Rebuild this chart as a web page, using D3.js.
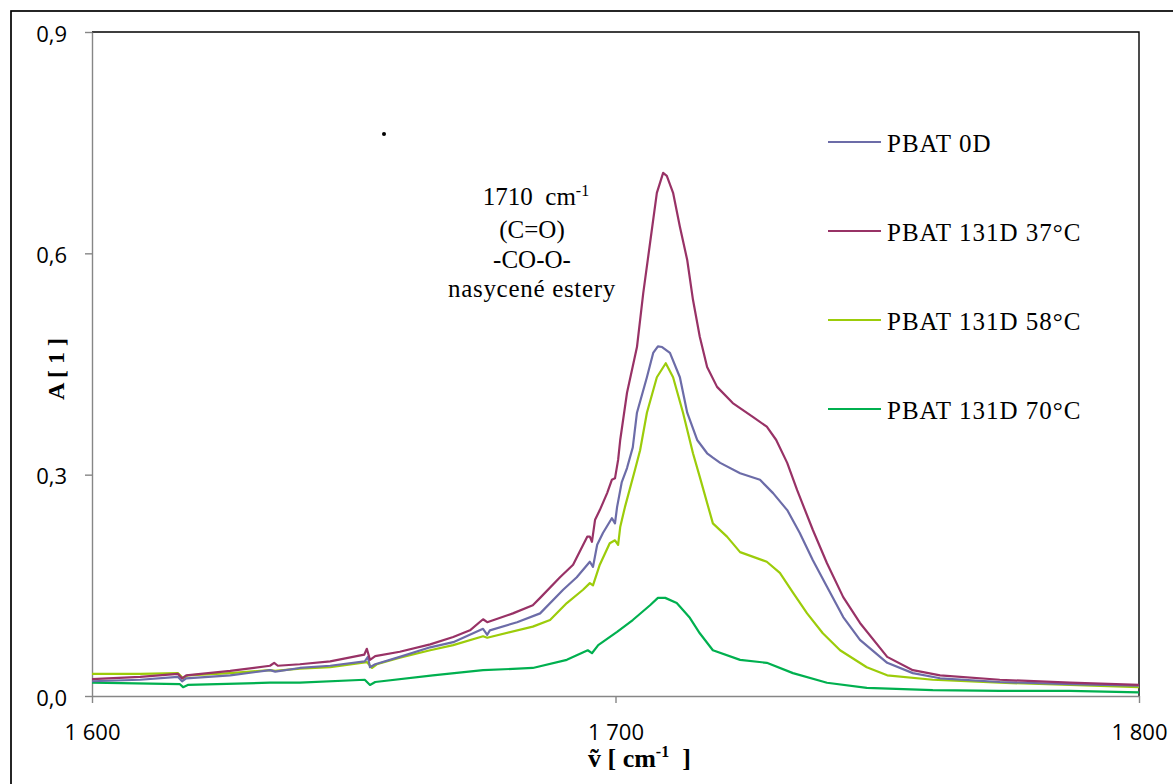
<!DOCTYPE html>
<html>
<head>
<meta charset="utf-8">
<script src="https://cdn.jsdelivr.net/npm/d3@7"></script>
<style>
  body { margin: 0; background: #fff; }
  svg { display: block; }
</style>
</head>
<body>
<div id="chart"></div>
<script>
// series: [wavenumber cm-1, absorbance]
const pbat0D = [
  [1600, 0.020], [1609.2, 0.022], [1616.4, 0.026], [1617.2, 0.020], [1618.0, 0.024],
  [1626.4, 0.028], [1634.0, 0.035], [1635.0, 0.033], [1639.7, 0.038], [1645.5, 0.041],
  [1652.1, 0.047], [1652.7, 0.053], [1653.1, 0.039], [1654.1, 0.043], [1658.8, 0.053],
  [1664.6, 0.066], [1669.0, 0.073], [1674.7, 0.091], [1675.5, 0.083], [1676.0, 0.089],
  [1681.2, 0.100], [1685.6, 0.112], [1690.0, 0.144], [1692.6, 0.161], [1695.1, 0.182],
  [1695.7, 0.175], [1696.5, 0.205], [1697.6, 0.221], [1699.3, 0.241], [1699.9, 0.234],
  [1700.3, 0.256], [1701.2, 0.290], [1702.2, 0.309], [1703.3, 0.337], [1704.1, 0.384],
  [1706.0, 0.432], [1707.2, 0.465], [1708.1, 0.474], [1708.9, 0.473], [1710.4, 0.465],
  [1712.3, 0.432], [1713.7, 0.384], [1715.6, 0.347], [1717.5, 0.329], [1718.6, 0.323],
  [1720.0, 0.316], [1723.8, 0.302], [1727.6, 0.293], [1730.1, 0.275], [1732.8, 0.252],
  [1735.2, 0.221], [1737.7, 0.184], [1740.4, 0.148], [1743.5, 0.107], [1746.7, 0.076],
  [1751.9, 0.045], [1756.8, 0.031], [1762.0, 0.024], [1773.4, 0.019], [1786.8, 0.016],
  [1800, 0.014]
]

const pbat37 = [
  [1600, 0.023], [1609.2, 0.026], [1616.4, 0.030], [1617.2, 0.024], [1618.0, 0.028],
  [1626.4, 0.034], [1634.0, 0.041], [1634.8, 0.045], [1635.5, 0.041], [1639.7, 0.043],
  [1645.5, 0.047], [1652.0, 0.056], [1652.5, 0.064], [1653.1, 0.049], [1654.1, 0.054],
  [1658.8, 0.060], [1664.6, 0.070], [1669.0, 0.080], [1672.2, 0.089], [1674.7, 0.104],
  [1675.5, 0.100], [1680.4, 0.112], [1684.2, 0.123], [1685.6, 0.133], [1689.4, 0.161],
  [1691.9, 0.178], [1694.6, 0.216], [1695.1, 0.216], [1695.5, 0.209], [1696.1, 0.239],
  [1697.0, 0.252], [1698.4, 0.275], [1699.3, 0.293], [1699.9, 0.295], [1700.5, 0.320],
  [1700.9, 0.347], [1702.2, 0.411], [1704.1, 0.473], [1705.3, 0.546], [1706.6, 0.614],
  [1707.9, 0.682], [1709.1, 0.709], [1709.8, 0.705], [1711.0, 0.682], [1712.3, 0.636],
  [1713.7, 0.591], [1714.8, 0.537], [1716.1, 0.487], [1717.5, 0.446], [1719.4, 0.419],
  [1722.4, 0.397], [1726.3, 0.378], [1728.9, 0.365], [1730.7, 0.347], [1732.8, 0.316],
  [1734.7, 0.279], [1737.7, 0.225], [1740.4, 0.180], [1743.5, 0.134], [1746.7, 0.099],
  [1751.9, 0.053], [1756.8, 0.035], [1762.0, 0.028], [1773.4, 0.022], [1786.8, 0.018],
  [1800, 0.015]
]

const pbat58 = [
  [1600, 0.030], [1609.2, 0.030], [1616.4, 0.031], [1617.4, 0.024], [1618.3, 0.028],
  [1626.4, 0.031], [1634.0, 0.035], [1635.0, 0.034], [1639.7, 0.037], [1645.5, 0.039],
  [1652.5, 0.046], [1653.5, 0.038], [1654.4, 0.043], [1658.8, 0.052], [1664.6, 0.062],
  [1669.0, 0.069], [1674.7, 0.081], [1675.5, 0.079], [1684.2, 0.094], [1687.5, 0.103],
  [1690.7, 0.126], [1693.8, 0.144], [1695.1, 0.153], [1695.7, 0.150], [1697.0, 0.178],
  [1698.9, 0.207], [1699.9, 0.211], [1700.5, 0.205], [1700.9, 0.229], [1701.8, 0.256],
  [1703.7, 0.306], [1704.7, 0.333], [1706.0, 0.384], [1707.9, 0.432], [1709.6, 0.451],
  [1711.0, 0.432], [1712.9, 0.384], [1714.8, 0.329], [1716.1, 0.297], [1718.6, 0.234],
  [1721.3, 0.216], [1723.8, 0.195], [1728.9, 0.182], [1731.4, 0.167], [1733.9, 0.140],
  [1736.6, 0.112], [1739.6, 0.085], [1742.9, 0.062], [1748.0, 0.039], [1751.9, 0.028],
  [1760.6, 0.022], [1773.4, 0.018], [1786.8, 0.015], [1800, 0.012]
]

const pbat70 = [
  [1600, 0.018], [1616.8, 0.016], [1617.4, 0.012], [1618.3, 0.015], [1634.0, 0.018],
  [1639.7, 0.018], [1652.1, 0.022], [1653.1, 0.015], [1654.1, 0.019], [1665.1, 0.028],
  [1674.7, 0.035], [1684.2, 0.038], [1690.7, 0.049], [1694.7, 0.062], [1695.5, 0.058],
  [1696.7, 0.069], [1700.3, 0.087], [1703.3, 0.103], [1706.6, 0.123], [1708.1, 0.133],
  [1709.5, 0.133], [1711.7, 0.126], [1714.2, 0.106], [1716.1, 0.085], [1718.6, 0.062],
  [1723.8, 0.049], [1728.9, 0.045], [1733.9, 0.031], [1740.4, 0.018], [1748.0, 0.011],
  [1760.6, 0.008], [1773.4, 0.007], [1786.8, 0.007], [1800, 0.005]
]

const seriesNames = ['PBAT 0D', 'PBAT 131D 37°C', 'PBAT 131D 58°C', 'PBAT 131D 70°C']
const seriesColors = ['#6c6ca8', '#983266', '#9ccc0a', '#00b04f']
const xTicks = [1600, 1700, 1800]
const yTicks = [0, 0.3, 0.6, 0.9]
const noteLines = ['(C=O)', '-CO-O-', 'nasycené estery']

const W = 1173, H = 784
const margin = {top: 32, right: W - 1139, bottom: H - 696, left: 92}

const svg = d3.select('#chart').append('svg')
    .attr('width', W)
    .attr('height', H)

// outer chart frame (runs off the right/bottom of the picture)
svg.append('rect')
    .attr('x', 11).attr('y', 11)
    .attr('width', W + 20).attr('height', H + 20)
    .attr('fill', 'none').attr('stroke', '#000').attr('stroke-width', 1.7)

const x = d3.scaleLinear().domain([1600, 1800]).range([margin.left, W - margin.right])
const y = d3.scaleLinear().domain([0, 0.9]).range([H - margin.bottom, margin.top])

const loc = d3.formatLocale({decimal: ',', thousands: ' ', grouping: [3], currency: ['', '']})

// plot area border, top and right are black
svg.append('path')
    .attr('d', `M${x(1600)},${y(0.9)} H${x(1800)} V${y(0)}`)
    .attr('fill', 'none').attr('stroke', '#000').attr('stroke-width', 1.4)

const yAxis = svg.append('g')
    .attr('transform', `translate(${margin.left},0)`)
    .call(d3.axisLeft(y).tickValues(yTicks).tickFormat(loc.format('.1f'))
        .tickSize(7).tickSizeOuter(0).tickPadding(18))
yAxis.selectAll('text').attr('dy', '0.42em')

const xAxis = svg.append('g')
    .attr('transform', `translate(0,${H - margin.bottom})`)
    .call(d3.axisBottom(x).tickValues(xTicks).tickFormat(loc.format(',d'))
        .tickSize(7).tickSizeOuter(0).tickPadding(21))

svg.selectAll('.domain, .tick line').attr('stroke', '#868686').attr('stroke-width', 1.4)
svg.selectAll('.tick text')
    .attr('fill', '#000')
    .style('font-family', '"Open Sans", sans-serif')
    .style('font-size', '22px')

// curves
const line = d3.line().x(d => x(d[0])).y(d => y(d[1]))
const allSeries = [pbat0D, pbat37, pbat58, pbat70]
const drawOrder = [3, 2, 0, 1]
drawOrder.forEach(i => {
  svg.append('path')
      .datum(allSeries[i])
      .attr('d', line)
      .attr('fill', 'none')
      .attr('stroke', seriesColors[i])
      .attr('stroke-width', 2.2)
      .attr('stroke-linejoin', 'round')
})

const serif = '"Liberation Serif", serif'

// legend
const legendY = [142, 231, 320, 409]
const legend = svg.append('g')
seriesNames.forEach((name, i) => {
  legend.append('line')
      .attr('x1', 828).attr('x2', 881)
      .attr('y1', legendY[i]).attr('y2', legendY[i])
      .attr('stroke', seriesColors[i]).attr('stroke-width', 2.2)
  legend.append('text')
      .attr('x', 887).attr('y', legendY[i] + 10)
      .style('font-family', serif)
      .style('font-size', '25px')
      .style('letter-spacing', '1px')
      .text(name)
})

// annotation
const t1 = svg.append('text')
    .attr('x', 536).attr('y', 205)
    .attr('text-anchor', 'middle')
    .style('white-space', 'pre')
    .style('font-family', serif).style('font-size', '25px')
t1.append('tspan').text('1710  cm')
t1.append('tspan').attr('dy', -9).style('font-size', '16px').text('-1')
const noteY = [238, 268, 297]
noteLines.forEach((s, i) => {
  svg.append('text')
      .attr('x', 532).attr('y', noteY[i])
      .attr('text-anchor', 'middle')
      .style('font-family', serif).style('font-size', '25px')
      .style('letter-spacing', i === 2 ? '0.7px' : '0px')
      .text(s)
})
svg.append('circle').attr('cx', 384).attr('cy', 134).attr('r', 2).attr('fill', '#000')

// axis titles
const xt = svg.append('text')
    .attr('x', 588).attr('y', 767)
    .style('white-space', 'pre')
    .style('font-family', serif).style('font-size', '26px').style('font-weight', 'bold')
xt.append('tspan').text('ṽ [ cm')
xt.append('tspan').attr('dy', -10).style('font-size', '16px').text('-1')
xt.append('tspan').attr('dy', 10).text('  ]')

svg.append('text')
    .attr('transform', `translate(64,369) rotate(-90)`)
    .attr('text-anchor', 'middle')
    .style('white-space', 'pre')
    .style('font-family', serif).style('font-size', '24px').style('font-weight', 'bold')
    .text('A [ 1 ]')
</script>
</body>
</html>
